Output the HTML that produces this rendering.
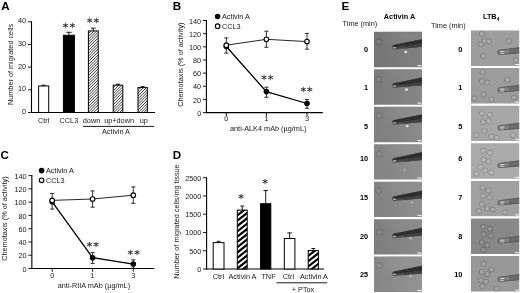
<!DOCTYPE html>
<html><head><meta charset="utf-8"><title>Figure</title>
<style>
html,body{margin:0;padding:0;background:#fff;}
body{width:520px;height:293px;overflow:hidden;position:relative;}
svg{position:absolute;left:0;top:0;display:block;}
text{font-family:"Liberation Sans",sans-serif;fill:#1a1a1a;}
.pl{font-weight:bold;font-size:11.6px;fill:#000;}
.t{font-size:7.3px;}
.tb{font-size:7.3px;font-weight:bold;fill:#000;}
.st{font-family:"DejaVu Sans Light","DejaVu Sans",sans-serif;font-weight:200;font-size:11.2px;fill:#2a2a2a;stroke:#2a2a2a;stroke-width:0.38px;letter-spacing:1.0px;}
</style></head><body>
<svg width="520" height="293" viewBox="0 0 520 293">

<text x="1.2" y="10.4" class="pl" text-anchor="start" >A</text>
<line x1="31.5" y1="21.3" x2="31.5" y2="113.0" stroke="#000" stroke-width="1.1"/>
<line x1="31.0" y1="112.5" x2="155" y2="112.5" stroke="#000" stroke-width="1.1"/>
<line x1="28.0" y1="112.5" x2="31.5" y2="112.5" stroke="#000" stroke-width="0.9"/>
<text x="26.1" y="114.0" class="t" text-anchor="end" >0</text>
<line x1="28.0" y1="89.825" x2="31.5" y2="89.825" stroke="#000" stroke-width="0.9"/>
<text x="26.1" y="91.325" class="t" text-anchor="end" >10</text>
<line x1="28.0" y1="67.15" x2="31.5" y2="67.15" stroke="#000" stroke-width="0.9"/>
<text x="26.1" y="68.65" class="t" text-anchor="end" >20</text>
<line x1="28.0" y1="44.474999999999994" x2="31.5" y2="44.474999999999994" stroke="#000" stroke-width="0.9"/>
<text x="26.1" y="45.974999999999994" class="t" text-anchor="end" >30</text>
<line x1="28.0" y1="21.799999999999997" x2="31.5" y2="21.799999999999997" stroke="#000" stroke-width="0.9"/>
<text x="26.1" y="23.299999999999997" class="t" text-anchor="end" >40</text>
<text transform="translate(13.3,64.5) rotate(-90)" class="t" text-anchor="middle">Number of migrated cells</text>
<line x1="43.650000000000006" y1="85.2" x2="43.650000000000006" y2="86.0" stroke="#000" stroke-width="0.9"/>
<line x1="41.650000000000006" y1="85.2" x2="45.650000000000006" y2="85.2" stroke="#000" stroke-width="0.9"/>
<rect x="38.6" y="86.00" width="10.10" height="26.50" fill="#fff" stroke="#000" stroke-width="1.0"/>
<line x1="68.9" y1="32.3" x2="68.9" y2="35.3" stroke="#000" stroke-width="0.9"/>
<line x1="66.30000000000001" y1="32.3" x2="71.5" y2="32.3" stroke="#000" stroke-width="0.9"/>
<rect x="63.4" y="35.30" width="11.00" height="77.20" fill="#000" stroke="#000" stroke-width="1.0"/>
<line x1="93.30000000000001" y1="28.2" x2="93.30000000000001" y2="30.9" stroke="#000" stroke-width="0.9"/>
<line x1="91.00000000000001" y1="28.2" x2="95.60000000000001" y2="28.2" stroke="#000" stroke-width="0.9"/>
<clipPath id="c1"><rect x="88.4" y="30.90" width="9.80" height="81.60"/></clipPath>
<rect x="88.4" y="30.90" width="9.80" height="81.60" fill="#fff"/>
<g clip-path="url(#c1)" stroke="#333" stroke-width="0.95">
<path d="M87.40,31.90L99.20,20.10M87.40,34.70L99.20,22.90M87.40,37.50L99.20,25.70M87.40,40.30L99.20,28.50M87.40,43.10L99.20,31.30M87.40,45.90L99.20,34.10M87.40,48.70L99.20,36.90M87.40,51.50L99.20,39.70M87.40,54.30L99.20,42.50M87.40,57.10L99.20,45.30M87.40,59.90L99.20,48.10M87.40,62.70L99.20,50.90M87.40,65.50L99.20,53.70M87.40,68.30L99.20,56.50M87.40,71.10L99.20,59.30M87.40,73.90L99.20,62.10M87.40,76.70L99.20,64.90M87.40,79.50L99.20,67.70M87.40,82.30L99.20,70.50M87.40,85.10L99.20,73.30M87.40,87.90L99.20,76.10M87.40,90.70L99.20,78.90M87.40,93.50L99.20,81.70M87.40,96.30L99.20,84.50M87.40,99.10L99.20,87.30M87.40,101.90L99.20,90.10M87.40,104.70L99.20,92.90M87.40,107.50L99.20,95.70M87.40,110.30L99.20,98.50M87.40,113.10L99.20,101.30M87.40,115.90L99.20,104.10M87.40,118.70L99.20,106.90M87.40,121.50L99.20,109.70M87.40,124.30L99.20,112.50" fill="none"/>
</g>
<rect x="88.4" y="30.90" width="9.80" height="81.60" fill="none" stroke="#000" stroke-width="1.0"/>
<line x1="118.0" y1="84.2" x2="118.0" y2="85.2" stroke="#000" stroke-width="0.9"/>
<line x1="116.0" y1="84.2" x2="120.0" y2="84.2" stroke="#000" stroke-width="0.9"/>
<clipPath id="c2"><rect x="113.2" y="85.20" width="9.60" height="27.30"/></clipPath>
<rect x="113.2" y="85.20" width="9.60" height="27.30" fill="#fff"/>
<g clip-path="url(#c2)" stroke="#333" stroke-width="0.95">
<path d="M112.20,86.20L123.80,74.60M112.20,89.00L123.80,77.40M112.20,91.80L123.80,80.20M112.20,94.60L123.80,83.00M112.20,97.40L123.80,85.80M112.20,100.20L123.80,88.60M112.20,103.00L123.80,91.40M112.20,105.80L123.80,94.20M112.20,108.60L123.80,97.00M112.20,111.40L123.80,99.80M112.20,114.20L123.80,102.60M112.20,117.00L123.80,105.40M112.20,119.80L123.80,108.20M112.20,122.60L123.80,111.00M112.20,125.40L123.80,113.80" fill="none"/>
</g>
<rect x="113.2" y="85.20" width="9.60" height="27.30" fill="none" stroke="#000" stroke-width="1.0"/>
<line x1="142.65" y1="86.6" x2="142.65" y2="87.6" stroke="#000" stroke-width="0.9"/>
<line x1="140.65" y1="86.6" x2="144.65" y2="86.6" stroke="#000" stroke-width="0.9"/>
<clipPath id="c3"><rect x="138" y="87.60" width="9.30" height="24.90"/></clipPath>
<rect x="138" y="87.60" width="9.30" height="24.90" fill="#fff"/>
<g clip-path="url(#c3)" stroke="#333" stroke-width="0.95">
<path d="M137.00,88.60L148.30,77.30M137.00,91.40L148.30,80.10M137.00,94.20L148.30,82.90M137.00,97.00L148.30,85.70M137.00,99.80L148.30,88.50M137.00,102.60L148.30,91.30M137.00,105.40L148.30,94.10M137.00,108.20L148.30,96.90M137.00,111.00L148.30,99.70M137.00,113.80L148.30,102.50M137.00,116.60L148.30,105.30M137.00,119.40L148.30,108.10M137.00,122.20L148.30,110.90M137.00,125.00L148.30,113.70" fill="none"/>
</g>
<rect x="138" y="87.60" width="9.30" height="24.90" fill="none" stroke="#000" stroke-width="1.0"/>
<text x="69.4" y="30.8" class="st" text-anchor="middle" >**</text>
<text x="93.5" y="25.900000000000002" class="st" text-anchor="middle" >**</text>
<text x="43.6" y="122.8" class="t" text-anchor="middle" >Ctrl</text>
<text x="68.9" y="122.8" class="t" text-anchor="middle" >CCL3</text>
<text x="91.5" y="122.8" class="t" text-anchor="middle" >down</text>
<text x="119.1" y="122.8" class="t" text-anchor="middle" >up+down</text>
<text x="143.7" y="122.8" class="t" text-anchor="middle" >up</text>
<line x1="83" y1="126.4" x2="154.2" y2="126.4" stroke="#000" stroke-width="0.9"/>
<text x="116" y="134.4" class="t" text-anchor="middle" >Activin A</text>
<text x="172.8" y="10.4" class="pl" text-anchor="start" >B</text>
<line x1="206.4" y1="20.0" x2="206.4" y2="113.1" stroke="#000" stroke-width="1.1"/>
<line x1="205.9" y1="112.6" x2="322.8" y2="112.6" stroke="#000" stroke-width="1.1"/>
<line x1="203.0" y1="112.6" x2="206.4" y2="112.6" stroke="#000" stroke-width="0.9"/>
<text x="201.20000000000002" y="115.7" class="t" text-anchor="end" >0</text>
<line x1="203.0" y1="99.44285714285714" x2="206.4" y2="99.44285714285714" stroke="#000" stroke-width="0.9"/>
<text x="201.20000000000002" y="102.54285714285714" class="t" text-anchor="end" >20</text>
<line x1="203.0" y1="86.28571428571428" x2="206.4" y2="86.28571428571428" stroke="#000" stroke-width="0.9"/>
<text x="201.20000000000002" y="89.38571428571429" class="t" text-anchor="end" >40</text>
<line x1="203.0" y1="73.12857142857143" x2="206.4" y2="73.12857142857143" stroke="#000" stroke-width="0.9"/>
<text x="201.20000000000002" y="76.22857142857144" class="t" text-anchor="end" >60</text>
<line x1="203.0" y1="59.97142857142857" x2="206.4" y2="59.97142857142857" stroke="#000" stroke-width="0.9"/>
<text x="201.20000000000002" y="63.07142857142857" class="t" text-anchor="end" >80</text>
<line x1="203.0" y1="46.8142857142857" x2="206.4" y2="46.8142857142857" stroke="#000" stroke-width="0.9"/>
<text x="201.20000000000002" y="49.914285714285704" class="t" text-anchor="end" >100</text>
<line x1="203.0" y1="33.65714285714286" x2="206.4" y2="33.65714285714286" stroke="#000" stroke-width="0.9"/>
<text x="201.20000000000002" y="36.75714285714286" class="t" text-anchor="end" >120</text>
<line x1="203.0" y1="20.5" x2="206.4" y2="20.5" stroke="#000" stroke-width="0.9"/>
<text x="201.20000000000002" y="23.599999999999998" class="t" text-anchor="end" >140</text>
<line x1="226.3" y1="112.6" x2="226.3" y2="115.89999999999999" stroke="#000" stroke-width="0.9"/>
<text x="226.3" y="120.69999999999999" class="t" text-anchor="middle" >0</text>
<line x1="266.4" y1="112.6" x2="266.4" y2="115.89999999999999" stroke="#000" stroke-width="0.9"/>
<text x="266.4" y="120.69999999999999" class="t" text-anchor="middle" >1</text>
<line x1="307.0" y1="112.6" x2="307.0" y2="115.89999999999999" stroke="#000" stroke-width="0.9"/>
<text x="307.0" y="120.69999999999999" class="t" text-anchor="middle" >3</text>
<text x="268.2" y="130.9" class="t" text-anchor="middle" >anti-ALK4 mAb (µg/mL)</text>
<text transform="translate(183.4,64.7) rotate(-90)" class="t" text-anchor="middle">Chemotaxis (% of activity)</text>
<circle cx="217.6" cy="16.5" r="2.8" fill="#000"/>
<text x="221.9" y="19.1" class="t" text-anchor="start" >Activin A</text>
<circle cx="217.6" cy="26.2" r="2.3" fill="#fff" stroke="#000" stroke-width="1.1"/>
<text x="221.9" y="28.8" class="t" text-anchor="start" >CCL3</text>
<line x1="266.4" y1="87.2" x2="266.4" y2="97.3" stroke="#000" stroke-width="0.8"/>
<line x1="264.29999999999995" y1="87.2" x2="268.5" y2="87.2" stroke="#000" stroke-width="0.8"/>
<line x1="264.29999999999995" y1="97.3" x2="268.5" y2="97.3" stroke="#000" stroke-width="0.8"/>
<line x1="307.0" y1="99.4" x2="307.0" y2="108.3" stroke="#000" stroke-width="0.8"/>
<line x1="304.9" y1="99.4" x2="309.1" y2="99.4" stroke="#000" stroke-width="0.8"/>
<line x1="304.9" y1="108.3" x2="309.1" y2="108.3" stroke="#000" stroke-width="0.8"/>
<polyline points="226.3,46.5 266.4,91.6 307.0,103.5" fill="none" stroke="#000" stroke-width="1.3"/>
<circle cx="226.3" cy="46.5" r="2.8" fill="#000"/>
<circle cx="266.4" cy="91.6" r="2.8" fill="#000"/>
<circle cx="307.0" cy="103.5" r="2.8" fill="#000"/>
<line x1="226.3" y1="37.9" x2="226.3" y2="53.2" stroke="#000" stroke-width="0.8"/>
<line x1="224.20000000000002" y1="37.9" x2="228.4" y2="37.9" stroke="#000" stroke-width="0.8"/>
<line x1="224.20000000000002" y1="53.2" x2="228.4" y2="53.2" stroke="#000" stroke-width="0.8"/>
<line x1="266.4" y1="31.2" x2="266.4" y2="47.3" stroke="#000" stroke-width="0.8"/>
<line x1="264.29999999999995" y1="31.2" x2="268.5" y2="31.2" stroke="#000" stroke-width="0.8"/>
<line x1="264.29999999999995" y1="47.3" x2="268.5" y2="47.3" stroke="#000" stroke-width="0.8"/>
<line x1="307.0" y1="33.4" x2="307.0" y2="49.2" stroke="#000" stroke-width="0.8"/>
<line x1="304.9" y1="33.4" x2="309.1" y2="33.4" stroke="#000" stroke-width="0.8"/>
<line x1="304.9" y1="49.2" x2="309.1" y2="49.2" stroke="#000" stroke-width="0.8"/>
<polyline points="226.3,45.2 266.4,39.3 307.0,41.6" fill="none" stroke="#000" stroke-width="0.85"/>
<circle cx="226.3" cy="45.2" r="2.3" fill="#fff" stroke="#000" stroke-width="1.1"/>
<circle cx="266.4" cy="39.3" r="2.3" fill="#fff" stroke="#000" stroke-width="1.1"/>
<circle cx="307.0" cy="41.6" r="2.3" fill="#fff" stroke="#000" stroke-width="1.1"/>
<text x="267.8" y="82.6" class="st" text-anchor="middle" >**</text>
<text x="307.0" y="95.39999999999999" class="st" text-anchor="middle" >**</text>
<text x="0.6" y="158.9" class="pl" text-anchor="start" >C</text>
<line x1="31.85" y1="175.1" x2="31.85" y2="269.0" stroke="#000" stroke-width="1.1"/>
<line x1="31.35" y1="268.5" x2="154.3" y2="268.5" stroke="#000" stroke-width="1.1"/>
<line x1="28.450000000000003" y1="268.5" x2="31.85" y2="268.5" stroke="#000" stroke-width="0.9"/>
<text x="26.650000000000002" y="271.59999999999997" class="t" text-anchor="end" >0</text>
<line x1="28.450000000000003" y1="255.22857142857143" x2="31.85" y2="255.22857142857143" stroke="#000" stroke-width="0.9"/>
<text x="26.650000000000002" y="258.3285714285714" class="t" text-anchor="end" >20</text>
<line x1="28.450000000000003" y1="241.95714285714286" x2="31.85" y2="241.95714285714286" stroke="#000" stroke-width="0.9"/>
<text x="26.650000000000002" y="245.05714285714285" class="t" text-anchor="end" >40</text>
<line x1="28.450000000000003" y1="228.68571428571428" x2="31.85" y2="228.68571428571428" stroke="#000" stroke-width="0.9"/>
<text x="26.650000000000002" y="231.78571428571428" class="t" text-anchor="end" >60</text>
<line x1="28.450000000000003" y1="215.4142857142857" x2="31.85" y2="215.4142857142857" stroke="#000" stroke-width="0.9"/>
<text x="26.650000000000002" y="218.5142857142857" class="t" text-anchor="end" >80</text>
<line x1="28.450000000000003" y1="202.14285714285714" x2="31.85" y2="202.14285714285714" stroke="#000" stroke-width="0.9"/>
<text x="26.650000000000002" y="205.24285714285713" class="t" text-anchor="end" >100</text>
<line x1="28.450000000000003" y1="188.87142857142857" x2="31.85" y2="188.87142857142857" stroke="#000" stroke-width="0.9"/>
<text x="26.650000000000002" y="191.97142857142856" class="t" text-anchor="end" >120</text>
<line x1="28.450000000000003" y1="175.6" x2="31.85" y2="175.6" stroke="#000" stroke-width="0.9"/>
<text x="26.650000000000002" y="178.7" class="t" text-anchor="end" >140</text>
<line x1="52.2" y1="268.5" x2="52.2" y2="271.8" stroke="#000" stroke-width="0.9"/>
<text x="52.2" y="278.1" class="t" text-anchor="middle" >0</text>
<line x1="92.6" y1="268.5" x2="92.6" y2="271.8" stroke="#000" stroke-width="0.9"/>
<text x="92.6" y="278.1" class="t" text-anchor="middle" >1</text>
<line x1="133.3" y1="268.5" x2="133.3" y2="271.8" stroke="#000" stroke-width="0.9"/>
<text x="133.3" y="278.1" class="t" text-anchor="middle" >3</text>
<text x="93.9" y="287.7" class="t" text-anchor="middle" >anti-RIIA mAb (µg/mL)</text>
<text transform="translate(6.8,218.6) rotate(-90)" class="t" text-anchor="middle">Chemotaxis (% of activity)</text>
<circle cx="41.6" cy="170.6" r="2.8" fill="#000"/>
<text x="45.9" y="173.2" class="t" text-anchor="start" >Activin A</text>
<circle cx="41.6" cy="180.29999999999998" r="2.3" fill="#fff" stroke="#000" stroke-width="1.1"/>
<text x="45.9" y="182.9" class="t" text-anchor="start" >CCL3</text>
<line x1="92.6" y1="252.6" x2="92.6" y2="263.4" stroke="#000" stroke-width="0.8"/>
<line x1="90.5" y1="252.6" x2="94.69999999999999" y2="252.6" stroke="#000" stroke-width="0.8"/>
<line x1="90.5" y1="263.4" x2="94.69999999999999" y2="263.4" stroke="#000" stroke-width="0.8"/>
<line x1="133.3" y1="259.8" x2="133.3" y2="268.3" stroke="#000" stroke-width="0.8"/>
<line x1="131.20000000000002" y1="259.8" x2="135.4" y2="259.8" stroke="#000" stroke-width="0.8"/>
<line x1="131.20000000000002" y1="268.3" x2="135.4" y2="268.3" stroke="#000" stroke-width="0.8"/>
<polyline points="52.2,201.8 92.6,257.7 133.3,264.1" fill="none" stroke="#000" stroke-width="1.3"/>
<circle cx="52.2" cy="201.8" r="2.8" fill="#000"/>
<circle cx="92.6" cy="257.7" r="2.8" fill="#000"/>
<circle cx="133.3" cy="264.1" r="2.8" fill="#000"/>
<line x1="52.2" y1="193.4" x2="52.2" y2="209.1" stroke="#000" stroke-width="0.8"/>
<line x1="50.1" y1="193.4" x2="54.300000000000004" y2="193.4" stroke="#000" stroke-width="0.8"/>
<line x1="50.1" y1="209.1" x2="54.300000000000004" y2="209.1" stroke="#000" stroke-width="0.8"/>
<line x1="92.6" y1="190.9" x2="92.6" y2="207.2" stroke="#000" stroke-width="0.8"/>
<line x1="90.5" y1="190.9" x2="94.69999999999999" y2="190.9" stroke="#000" stroke-width="0.8"/>
<line x1="90.5" y1="207.2" x2="94.69999999999999" y2="207.2" stroke="#000" stroke-width="0.8"/>
<line x1="133.3" y1="186.9" x2="133.3" y2="203.3" stroke="#000" stroke-width="0.8"/>
<line x1="131.20000000000002" y1="186.9" x2="135.4" y2="186.9" stroke="#000" stroke-width="0.8"/>
<line x1="131.20000000000002" y1="203.3" x2="135.4" y2="203.3" stroke="#000" stroke-width="0.8"/>
<polyline points="52.2,200.4 92.6,199.0 133.3,195.2" fill="none" stroke="#000" stroke-width="0.85"/>
<circle cx="52.2" cy="200.4" r="2.3" fill="#fff" stroke="#000" stroke-width="1.1"/>
<circle cx="92.6" cy="199.0" r="2.3" fill="#fff" stroke="#000" stroke-width="1.1"/>
<circle cx="133.3" cy="195.2" r="2.3" fill="#fff" stroke="#000" stroke-width="1.1"/>
<text x="93.3" y="250.0" class="st" text-anchor="middle" >**</text>
<text x="134.2" y="257.7" class="st" text-anchor="middle" >**</text>
<text x="172.8" y="158.9" class="pl" text-anchor="start" >D</text>
<line x1="206.6" y1="177.2" x2="206.6" y2="269.5" stroke="#000" stroke-width="1.1"/>
<line x1="206.1" y1="269.0" x2="324" y2="269.0" stroke="#000" stroke-width="1.1"/>
<line x1="203.0" y1="269.0" x2="206.6" y2="269.0" stroke="#000" stroke-width="0.9"/>
<text x="201.4" y="271.8" class="t" text-anchor="end" >0</text>
<line x1="203.0" y1="250.74" x2="206.6" y2="250.74" stroke="#000" stroke-width="0.9"/>
<text x="201.4" y="253.54" class="t" text-anchor="end" >500</text>
<line x1="203.0" y1="232.48" x2="206.6" y2="232.48" stroke="#000" stroke-width="0.9"/>
<text x="201.4" y="235.27999999999997" class="t" text-anchor="end" >1000</text>
<line x1="203.0" y1="214.22" x2="206.6" y2="214.22" stroke="#000" stroke-width="0.9"/>
<text x="201.4" y="217.01999999999998" class="t" text-anchor="end" >1500</text>
<line x1="203.0" y1="195.95999999999998" x2="206.6" y2="195.95999999999998" stroke="#000" stroke-width="0.9"/>
<text x="201.4" y="198.75999999999996" class="t" text-anchor="end" >2000</text>
<line x1="203.0" y1="177.7" x2="206.6" y2="177.7" stroke="#000" stroke-width="0.9"/>
<text x="201.4" y="180.49999999999997" class="t" text-anchor="end" >2500</text>
<text transform="translate(178.6,221.5) rotate(-90)" class="t" text-anchor="middle">Number of migrated cells/mg tissue</text>
<line x1="218.6" y1="241.3" x2="218.6" y2="242.6" stroke="#000" stroke-width="0.9"/>
<line x1="216.7" y1="241.3" x2="220.5" y2="241.3" stroke="#000" stroke-width="0.9"/>
<rect x="213.2" y="242.60" width="10.80" height="26.40" fill="#fff" stroke="#000" stroke-width="1.0"/>
<line x1="242.25" y1="206.0" x2="242.25" y2="210.1" stroke="#000" stroke-width="0.9"/>
<line x1="240.35" y1="206.0" x2="244.15" y2="206.0" stroke="#000" stroke-width="0.9"/>
<clipPath id="c4"><rect x="237.3" y="210.10" width="9.90" height="58.90"/></clipPath>
<rect x="237.3" y="210.10" width="9.90" height="58.90" fill="#fff"/>
<g clip-path="url(#c4)" stroke="#000" stroke-width="2.2">
<path d="M236.30,210.88L248.20,201.58M236.30,216.18L248.20,206.88M236.30,221.48L248.20,212.18M236.30,226.78L248.20,217.48M236.30,232.08L248.20,222.78M236.30,237.38L248.20,228.08M236.30,242.68L248.20,233.38M236.30,247.98L248.20,238.68M236.30,253.28L248.20,243.98M236.30,258.58L248.20,249.28M236.30,263.88L248.20,254.58M236.30,269.18L248.20,259.88M236.30,274.48L248.20,265.18M236.30,279.78L248.20,270.48" fill="none"/>
</g>
<rect x="237.3" y="210.10" width="9.90" height="58.90" fill="none" stroke="#000" stroke-width="1.0"/>
<line x1="265.70000000000005" y1="190.5" x2="265.70000000000005" y2="203.7" stroke="#000" stroke-width="0.9"/>
<line x1="263.50000000000006" y1="190.5" x2="267.90000000000003" y2="190.5" stroke="#000" stroke-width="0.9"/>
<rect x="260.6" y="203.70" width="10.20" height="65.30" fill="#000" stroke="#000" stroke-width="1.0"/>
<line x1="289.6" y1="232.9" x2="289.6" y2="238.5" stroke="#000" stroke-width="0.9"/>
<line x1="287.3" y1="232.9" x2="291.90000000000003" y2="232.9" stroke="#000" stroke-width="0.9"/>
<rect x="284.3" y="238.50" width="10.60" height="30.50" fill="#fff" stroke="#000" stroke-width="1.0"/>
<line x1="313.29999999999995" y1="248.5" x2="313.29999999999995" y2="250.6" stroke="#000" stroke-width="0.9"/>
<line x1="311.4" y1="248.5" x2="315.19999999999993" y2="248.5" stroke="#000" stroke-width="0.9"/>
<clipPath id="c5"><rect x="308.2" y="250.60" width="10.20" height="18.40"/></clipPath>
<rect x="308.2" y="250.60" width="10.20" height="18.40" fill="#fff"/>
<g clip-path="url(#c5)" stroke="#000" stroke-width="2.2">
<path d="M307.20,251.38L319.40,241.85M307.20,256.68L319.40,247.15M307.20,261.98L319.40,252.45M307.20,267.28L319.40,257.75M307.20,272.58L319.40,263.05M307.20,277.88L319.40,268.35" fill="none"/>
</g>
<rect x="308.2" y="250.60" width="10.20" height="18.40" fill="none" stroke="#000" stroke-width="1.0"/>
<text x="241.6" y="202.10000000000002" class="st" text-anchor="middle" >*</text>
<text x="265.6" y="187.10000000000002" class="st" text-anchor="middle" >*</text>
<text x="218.5" y="278.6" class="t" text-anchor="middle" >Ctrl</text>
<text x="242.5" y="278.6" class="t" text-anchor="middle" >Activin A</text>
<text x="268.5" y="278.6" class="t" text-anchor="middle" >TNF</text>
<text x="288.5" y="278.6" class="t" text-anchor="middle" >Ctrl</text>
<text x="314" y="278.6" class="t" text-anchor="middle" >Activin A</text>
<line x1="276.5" y1="282.8" x2="327.2" y2="282.8" stroke="#000" stroke-width="0.9"/>
<text x="303" y="292.3" class="t" text-anchor="middle" >+ PTox</text>
<text x="341.6" y="10.4" class="pl" text-anchor="start" >E</text>
<text x="399.5" y="18.6" class="tb" text-anchor="middle" >Activin A</text>
<text x="342.6" y="25.9" class="t" text-anchor="start" >Time (min)</text>
<text x="483" y="19.4" class="tb">LTB<tspan font-size="4.8" dy="1.5">4</tspan></text>
<text x="431" y="28.1" class="t" text-anchor="start" >Time (min)</text>
<defs><filter id="bl" x="-10%" y="-10%" width="120%" height="120%"><feGaussianBlur stdDeviation="0.45"/></filter>
<filter id="bl2" x="-50%" y="-50%" width="200%" height="200%"><feGaussianBlur stdDeviation="5"/></filter>
<clipPath id="cpL"><rect x="0" y="0" width="48" height="35.4"/></clipPath>
<clipPath id="cpR"><rect x="0" y="0" width="48.2" height="35.4"/></clipPath></defs>
<g transform="translate(374,31.80)" clip-path="url(#cpL)">
<linearGradient id="lg0" x1="0" x2="1" y1="0" y2="0"><stop offset="0" stop-color="#757575"/><stop offset="0.45" stop-color="#797979"/><stop offset="1" stop-color="#828282"/></linearGradient>
<rect x="-1" y="-1" width="50" height="38" fill="url(#lg0)"/>
<g filter="url(#bl)">
<ellipse cx="34" cy="5" rx="22" ry="12" fill="#858585" opacity="0.5" filter="url(#bl2)"/>
<circle cx="4.6" cy="9.8" r="2.9" fill="#7d7d7d" stroke="#5b5b5b" stroke-width="0.7"/>
<g transform="translate(0,0)">
<polygon points="18.2,14.4 19.2,13.3 49,7.1 49,15.0 20.2,17.7 18.5,16.9" fill="#4c4c4c"/>
<polygon points="18.6,14.2 19.4,13.3 49,7.1 49,12 20,15.6" fill="#2e2e2e"/>
<polygon points="30,14.9 49,12.6 49,15.0 30,16.7" fill="#404040"/>
<ellipse cx="20.6" cy="15.9" rx="1.5" ry="0.8" fill="#c0c0c0"/>
</g>
<circle cx="31.8" cy="20.2" r="1.35" fill="#e8e8e8" opacity="1"/>
</g>
<rect x="43.4" y="33.3" width="4.2" height="1.1" fill="#f2f2f2"/>
</g>
<g transform="translate(471,30.50)" clip-path="url(#cpR)">
<rect x="-1" y="-1" width="51" height="38" fill="#9d9d9d"/>
<g filter="url(#bl)">
<circle cx="10.8" cy="3.4" r="2.6" fill="#a9a9a9" stroke="#797979" stroke-width="0.8"/>
<circle cx="13.5" cy="10.5" r="2.6" fill="#a9a9a9" stroke="#797979" stroke-width="0.8"/>
<circle cx="10" cy="13.8" r="2.6" fill="#a9a9a9" stroke="#797979" stroke-width="0.8"/>
<circle cx="18" cy="11" r="2.6" fill="#a9a9a9" stroke="#797979" stroke-width="0.8"/>
<circle cx="12" cy="25.5" r="2.6" fill="#a9a9a9" stroke="#797979" stroke-width="0.8"/>
<circle cx="38" cy="10.5" r="2.6" fill="#a9a9a9" stroke="#797979" stroke-width="0.8"/>
<circle cx="45" cy="29.6" r="2.6" fill="#a9a9a9" stroke="#797979" stroke-width="0.8"/>
<g transform="translate(0,0)">
<polygon points="26.8,20.4 28.4,19.6 50,16.8 50,22.4 28.6,24.2 26.9,23.5" fill="#808080"/>
<polygon points="38,18.4 50,16.8 50,22.4 38,23.4" fill="#6c6c6c"/>
<polyline points="50,17 28.4,19.7 27.1,20.5 27.2,23.4 28.6,24 50,22.2" fill="none" stroke="#505050" stroke-width="0.8"/>
<rect x="29.2" y="20.6" width="4.2" height="0.9" fill="#e0e0e0"/><rect x="29.2" y="22.6" width="3.6" height="0.8" fill="#d6d6d6"/>
</g>
</g>
<rect x="44.2" y="33.5" width="3.8" height="1.0" fill="#f2f2f2"/>
</g>
<text x="368.0" y="52.05" class="tb" text-anchor="end" >0</text>
<text x="462.4" y="52.05" class="tb" text-anchor="end" >0</text>
<g transform="translate(374,69.27)" clip-path="url(#cpL)">
<linearGradient id="lg1" x1="0" x2="1" y1="0" y2="0"><stop offset="0" stop-color="#7a7a7a"/><stop offset="0.45" stop-color="#7e7e7e"/><stop offset="1" stop-color="#878787"/></linearGradient>
<rect x="-1" y="-1" width="50" height="38" fill="url(#lg1)"/>
<g filter="url(#bl)">
<ellipse cx="34" cy="5" rx="22" ry="12" fill="#8a8a8a" opacity="0.5" filter="url(#bl2)"/>
<circle cx="4.6" cy="10" r="2.9" fill="#828282" stroke="#606060" stroke-width="0.7"/>
<g transform="translate(0,0.9)">
<polygon points="18.2,14.4 19.2,13.3 49,7.1 49,15.0 20.2,17.7 18.5,16.9" fill="#4c4c4c"/>
<polygon points="18.6,14.2 19.4,13.3 49,7.1 49,12 20,15.6" fill="#2e2e2e"/>
<polygon points="30,14.9 49,12.6 49,15.0 30,16.7" fill="#404040"/>
<ellipse cx="20.6" cy="15.9" rx="1.5" ry="0.8" fill="#c0c0c0"/>
</g>
<circle cx="32.5" cy="20.4" r="1.35" fill="#e8e8e8" opacity="1"/>
</g>
<rect x="43.4" y="33.3" width="4.2" height="1.1" fill="#f2f2f2"/>
</g>
<g transform="translate(471,68.10)" clip-path="url(#cpR)">
<rect x="-1" y="-1" width="51" height="38" fill="#9c9c9c"/>
<g filter="url(#bl)">
<circle cx="11.6" cy="4.2" r="2.6" fill="#a8a8a8" stroke="#787878" stroke-width="0.8"/>
<circle cx="10.8" cy="13.2" r="2.6" fill="#a8a8a8" stroke="#787878" stroke-width="0.8"/>
<circle cx="16.2" cy="14.5" r="2.6" fill="#a8a8a8" stroke="#787878" stroke-width="0.8"/>
<circle cx="12.7" cy="26.3" r="2.6" fill="#a8a8a8" stroke="#787878" stroke-width="0.8"/>
<circle cx="3.4" cy="30.4" r="2.6" fill="#a8a8a8" stroke="#787878" stroke-width="0.8"/>
<circle cx="20.3" cy="31.5" r="2.6" fill="#a8a8a8" stroke="#787878" stroke-width="0.8"/>
<circle cx="36.7" cy="11.8" r="2.6" fill="#a8a8a8" stroke="#787878" stroke-width="0.8"/>
<circle cx="43" cy="29.6" r="2.6" fill="#a8a8a8" stroke="#787878" stroke-width="0.8"/>
<g transform="translate(0,0)">
<polygon points="26.8,20.4 28.4,19.6 50,16.8 50,22.4 28.6,24.2 26.9,23.5" fill="#808080"/>
<polygon points="38,18.4 50,16.8 50,22.4 38,23.4" fill="#6c6c6c"/>
<polyline points="50,17 28.4,19.7 27.1,20.5 27.2,23.4 28.6,24 50,22.2" fill="none" stroke="#505050" stroke-width="0.8"/>
<rect x="29.2" y="20.6" width="4.2" height="0.9" fill="#e0e0e0"/><rect x="29.2" y="22.6" width="3.6" height="0.8" fill="#d6d6d6"/>
</g>
</g>
<rect x="44.2" y="33.5" width="3.8" height="1.0" fill="#f2f2f2"/>
</g>
<text x="368.0" y="89.75" class="tb" text-anchor="end" >1</text>
<text x="462.4" y="89.75" class="tb" text-anchor="end" >1</text>
<g transform="translate(374,106.74)" clip-path="url(#cpL)">
<linearGradient id="lg2" x1="0" x2="1" y1="0" y2="0"><stop offset="0" stop-color="#7f7f7f"/><stop offset="0.45" stop-color="#838383"/><stop offset="1" stop-color="#8c8c8c"/></linearGradient>
<rect x="-1" y="-1" width="50" height="38" fill="url(#lg2)"/>
<g filter="url(#bl)">
<ellipse cx="34" cy="5" rx="22" ry="12" fill="#8f8f8f" opacity="0.5" filter="url(#bl2)"/>
<circle cx="5" cy="9" r="2.9" fill="#878787" stroke="#656565" stroke-width="0.7"/>
<g transform="translate(0,0.3)">
<polygon points="18.2,14.4 19.2,13.3 49,7.1 49,15.0 20.2,17.7 18.5,16.9" fill="#4c4c4c"/>
<polygon points="18.6,14.2 19.4,13.3 49,7.1 49,12 20,15.6" fill="#2e2e2e"/>
<polygon points="30,14.9 49,12.6 49,15.0 30,16.7" fill="#404040"/>
<ellipse cx="20.6" cy="15.9" rx="1.5" ry="0.8" fill="#c0c0c0"/>
</g>
<circle cx="33.2" cy="19.3" r="1.35" fill="#e8e8e8" opacity="0.9"/>
</g>
<rect x="43.4" y="33.3" width="4.2" height="1.1" fill="#f2f2f2"/>
</g>
<g transform="translate(471,105.70)" clip-path="url(#cpR)">
<rect x="-1" y="-1" width="51" height="38" fill="#a7a7a7"/>
<g filter="url(#bl)">
<circle cx="10.8" cy="7.6" r="2.6" fill="#b3b3b3" stroke="#838383" stroke-width="0.8"/>
<circle cx="19" cy="9" r="2.6" fill="#b3b3b3" stroke="#838383" stroke-width="0.8"/>
<circle cx="12" cy="16.4" r="2.6" fill="#b3b3b3" stroke="#838383" stroke-width="0.8"/>
<circle cx="17.6" cy="15.3" r="2.6" fill="#b3b3b3" stroke="#838383" stroke-width="0.8"/>
<circle cx="13.5" cy="25.4" r="2.6" fill="#b3b3b3" stroke="#838383" stroke-width="0.8"/>
<circle cx="5.3" cy="29.5" r="2.6" fill="#b3b3b3" stroke="#838383" stroke-width="0.8"/>
<circle cx="20.3" cy="30.9" r="2.6" fill="#b3b3b3" stroke="#838383" stroke-width="0.8"/>
<circle cx="25.8" cy="32.2" r="2.6" fill="#b3b3b3" stroke="#838383" stroke-width="0.8"/>
<circle cx="42" cy="29.5" r="2.6" fill="#b3b3b3" stroke="#838383" stroke-width="0.8"/>
<g transform="translate(0,0.3)">
<polygon points="26.8,20.4 28.4,19.6 50,16.8 50,22.4 28.6,24.2 26.9,23.5" fill="#808080"/>
<polygon points="38,18.4 50,16.8 50,22.4 38,23.4" fill="#6c6c6c"/>
<polyline points="50,17 28.4,19.7 27.1,20.5 27.2,23.4 28.6,24 50,22.2" fill="none" stroke="#505050" stroke-width="0.8"/>
<rect x="29.2" y="20.6" width="4.2" height="0.9" fill="#e0e0e0"/><rect x="29.2" y="22.6" width="3.6" height="0.8" fill="#d6d6d6"/>
</g>
</g>
<rect x="44.2" y="33.5" width="3.8" height="1.0" fill="#f2f2f2"/>
</g>
<text x="368.0" y="128.75" class="tb" text-anchor="end" >5</text>
<text x="462.4" y="128.75" class="tb" text-anchor="end" >5</text>
<g transform="translate(374,144.21)" clip-path="url(#cpL)">
<linearGradient id="lg3" x1="0" x2="1" y1="0" y2="0"><stop offset="0" stop-color="#838383"/><stop offset="0.45" stop-color="#878787"/><stop offset="1" stop-color="#909090"/></linearGradient>
<rect x="-1" y="-1" width="50" height="38" fill="url(#lg3)"/>
<g filter="url(#bl)">
<ellipse cx="34" cy="5" rx="22" ry="12" fill="#939393" opacity="0.5" filter="url(#bl2)"/>
<circle cx="5" cy="10" r="2.9" fill="#8b8b8b" stroke="#696969" stroke-width="0.7"/>
<g transform="translate(0,0.8)">
<polygon points="18.2,14.4 19.2,13.3 49,7.1 49,15.0 20.2,17.7 18.5,16.9" fill="#4c4c4c"/>
<polygon points="18.6,14.2 19.4,13.3 49,7.1 49,12 20,15.6" fill="#2e2e2e"/>
<polygon points="30,14.9 49,12.6 49,15.0 30,16.7" fill="#404040"/>
<ellipse cx="20.6" cy="15.9" rx="1.5" ry="0.8" fill="#c0c0c0"/>
</g>
<circle cx="30.4" cy="25.7" r="1.35" fill="#e8e8e8" opacity="0.25"/>
</g>
<rect x="43.4" y="33.3" width="4.2" height="1.1" fill="#f2f2f2"/>
</g>
<g transform="translate(471,143.30)" clip-path="url(#cpR)">
<rect x="-1" y="-1" width="51" height="38" fill="#aaaaaa"/>
<g filter="url(#bl)">
<circle cx="12.1" cy="7.5" r="2.6" fill="#b6b6b6" stroke="#868686" stroke-width="0.8"/>
<circle cx="19" cy="9.4" r="2.6" fill="#b6b6b6" stroke="#868686" stroke-width="0.8"/>
<circle cx="12.7" cy="16.2" r="2.6" fill="#b6b6b6" stroke="#868686" stroke-width="0.8"/>
<circle cx="17.6" cy="18.4" r="2.6" fill="#b6b6b6" stroke="#868686" stroke-width="0.8"/>
<circle cx="9.4" cy="23.9" r="2.6" fill="#b6b6b6" stroke="#868686" stroke-width="0.8"/>
<circle cx="14.3" cy="27.1" r="2.6" fill="#b6b6b6" stroke="#868686" stroke-width="0.8"/>
<circle cx="20.3" cy="29.3" r="2.6" fill="#b6b6b6" stroke="#868686" stroke-width="0.8"/>
<circle cx="5.3" cy="30.4" r="2.6" fill="#b6b6b6" stroke="#868686" stroke-width="0.8"/>
<g transform="translate(0,0.3)">
<polygon points="26.8,20.4 28.4,19.6 50,16.8 50,22.4 28.6,24.2 26.9,23.5" fill="#808080"/>
<polygon points="38,18.4 50,16.8 50,22.4 38,23.4" fill="#6c6c6c"/>
<polyline points="50,17 28.4,19.7 27.1,20.5 27.2,23.4 28.6,24 50,22.2" fill="none" stroke="#505050" stroke-width="0.8"/>
<rect x="29.2" y="20.6" width="4.2" height="0.9" fill="#e0e0e0"/><rect x="29.2" y="22.6" width="3.6" height="0.8" fill="#d6d6d6"/>
</g>
</g>
<rect x="44.2" y="33.5" width="3.8" height="1.0" fill="#f2f2f2"/>
</g>
<text x="368.0" y="160.65" class="tb" text-anchor="end" >10</text>
<text x="462.4" y="160.65" class="tb" text-anchor="end" >6</text>
<g transform="translate(374,181.68)" clip-path="url(#cpL)">
<linearGradient id="lg4" x1="0" x2="1" y1="0" y2="0"><stop offset="0" stop-color="#828282"/><stop offset="0.45" stop-color="#868686"/><stop offset="1" stop-color="#8f8f8f"/></linearGradient>
<rect x="-1" y="-1" width="50" height="38" fill="url(#lg4)"/>
<g filter="url(#bl)">
<ellipse cx="34" cy="5" rx="22" ry="12" fill="#929292" opacity="0.5" filter="url(#bl2)"/>
<circle cx="4.5" cy="9" r="2.9" fill="#8a8a8a" stroke="#686868" stroke-width="0.7"/>
<g transform="translate(0,1.6)">
<polygon points="18.2,14.4 19.2,13.3 49,7.1 49,15.0 20.2,17.7 18.5,16.9" fill="#4c4c4c"/>
<polygon points="18.6,14.2 19.4,13.3 49,7.1 49,12 20,15.6" fill="#2e2e2e"/>
<polygon points="30,14.9 49,12.6 49,15.0 30,16.7" fill="#404040"/>
<ellipse cx="20.6" cy="15.9" rx="1.5" ry="0.8" fill="#c0c0c0"/>
</g>
<circle cx="38" cy="21" r="1.35" fill="#e8e8e8" opacity="0.4"/>
</g>
<rect x="43.4" y="33.3" width="4.2" height="1.1" fill="#f2f2f2"/>
</g>
<g transform="translate(471,180.90)" clip-path="url(#cpR)">
<rect x="-1" y="-1" width="51" height="38" fill="#a0a0a0"/>
<g filter="url(#bl)">
<circle cx="11.6" cy="6.9" r="2.6" fill="#acacac" stroke="#7c7c7c" stroke-width="0.8"/>
<circle cx="17.6" cy="9.6" r="2.6" fill="#acacac" stroke="#7c7c7c" stroke-width="0.8"/>
<circle cx="12.1" cy="15.1" r="2.6" fill="#acacac" stroke="#7c7c7c" stroke-width="0.8"/>
<circle cx="19" cy="16.4" r="2.6" fill="#acacac" stroke="#7c7c7c" stroke-width="0.8"/>
<circle cx="10.8" cy="23.3" r="2.6" fill="#acacac" stroke="#7c7c7c" stroke-width="0.8"/>
<circle cx="16.2" cy="27.4" r="2.6" fill="#acacac" stroke="#7c7c7c" stroke-width="0.8"/>
<circle cx="21.7" cy="28.7" r="2.6" fill="#acacac" stroke="#7c7c7c" stroke-width="0.8"/>
<circle cx="8" cy="30.1" r="2.6" fill="#acacac" stroke="#7c7c7c" stroke-width="0.8"/>
<circle cx="34" cy="31.5" r="2.6" fill="#acacac" stroke="#7c7c7c" stroke-width="0.8"/>
<g transform="translate(0,0)">
<polygon points="26.8,20.4 28.4,19.6 50,16.8 50,22.4 28.6,24.2 26.9,23.5" fill="#808080"/>
<polygon points="38,18.4 50,16.8 50,22.4 38,23.4" fill="#6c6c6c"/>
<polyline points="50,17 28.4,19.7 27.1,20.5 27.2,23.4 28.6,24 50,22.2" fill="none" stroke="#505050" stroke-width="0.8"/>
<rect x="29.2" y="20.6" width="4.2" height="0.9" fill="#e0e0e0"/><rect x="29.2" y="22.6" width="3.6" height="0.8" fill="#d6d6d6"/>
</g>
</g>
<rect x="44.2" y="33.5" width="3.8" height="1.0" fill="#f2f2f2"/>
</g>
<text x="368.0" y="200.05" class="tb" text-anchor="end" >15</text>
<text x="462.4" y="200.05" class="tb" text-anchor="end" >7</text>
<g transform="translate(374,219.15)" clip-path="url(#cpL)">
<linearGradient id="lg5" x1="0" x2="1" y1="0" y2="0"><stop offset="0" stop-color="#7e7e7e"/><stop offset="0.45" stop-color="#828282"/><stop offset="1" stop-color="#8b8b8b"/></linearGradient>
<rect x="-1" y="-1" width="50" height="38" fill="url(#lg5)"/>
<g filter="url(#bl)">
<ellipse cx="34" cy="5" rx="22" ry="12" fill="#8e8e8e" opacity="0.5" filter="url(#bl2)"/>
<circle cx="5.3" cy="13" r="2.9" fill="#868686" stroke="#646464" stroke-width="0.7"/>
<g transform="translate(0,1.4)">
<polygon points="18.2,14.4 19.2,13.3 49,7.1 49,15.0 20.2,17.7 18.5,16.9" fill="#4c4c4c"/>
<polygon points="18.6,14.2 19.4,13.3 49,7.1 49,12 20,15.6" fill="#2e2e2e"/>
<polygon points="30,14.9 49,12.6 49,15.0 30,16.7" fill="#404040"/>
<ellipse cx="20.6" cy="15.9" rx="1.5" ry="0.8" fill="#c0c0c0"/>
</g>
<circle cx="36.7" cy="19" r="1.35" fill="#e8e8e8" opacity="0.5"/>
</g>
<rect x="43.4" y="33.3" width="4.2" height="1.1" fill="#f2f2f2"/>
</g>
<g transform="translate(471,218.50)" clip-path="url(#cpR)">
<rect x="-1" y="-1" width="51" height="38" fill="#888888"/>
<g filter="url(#bl)">
<circle cx="12.1" cy="8.4" r="2.6" fill="#949494" stroke="#646464" stroke-width="0.8"/>
<circle cx="19" cy="10.3" r="2.6" fill="#949494" stroke="#646464" stroke-width="0.8"/>
<circle cx="12.7" cy="15.8" r="2.6" fill="#949494" stroke="#646464" stroke-width="0.8"/>
<circle cx="19.8" cy="17.2" r="2.6" fill="#949494" stroke="#646464" stroke-width="0.8"/>
<circle cx="10.8" cy="24" r="2.6" fill="#949494" stroke="#646464" stroke-width="0.8"/>
<circle cx="16.2" cy="26.7" r="2.6" fill="#949494" stroke="#646464" stroke-width="0.8"/>
<circle cx="12.1" cy="31.4" r="2.6" fill="#949494" stroke="#646464" stroke-width="0.8"/>
<g transform="translate(0,0.6)">
<polygon points="26.8,20.4 28.4,19.6 50,16.8 50,22.4 28.6,24.2 26.9,23.5" fill="#808080"/>
<polygon points="38,18.4 50,16.8 50,22.4 38,23.4" fill="#6c6c6c"/>
<polyline points="50,17 28.4,19.7 27.1,20.5 27.2,23.4 28.6,24 50,22.2" fill="none" stroke="#505050" stroke-width="0.8"/>
<rect x="29.2" y="20.6" width="4.2" height="0.9" fill="#e0e0e0"/><rect x="29.2" y="22.6" width="3.6" height="0.8" fill="#d6d6d6"/>
</g>
</g>
<rect x="44.2" y="33.5" width="3.8" height="1.0" fill="#f2f2f2"/>
</g>
<text x="368.0" y="238.85" class="tb" text-anchor="end" >20</text>
<text x="462.4" y="238.85" class="tb" text-anchor="end" >8</text>
<g transform="translate(374,256.62)" clip-path="url(#cpL)">
<linearGradient id="lg6" x1="0" x2="1" y1="0" y2="0"><stop offset="0" stop-color="#878787"/><stop offset="0.45" stop-color="#8b8b8b"/><stop offset="1" stop-color="#949494"/></linearGradient>
<rect x="-1" y="-1" width="50" height="38" fill="url(#lg6)"/>
<g filter="url(#bl)">
<ellipse cx="34" cy="5" rx="22" ry="12" fill="#979797" opacity="0.5" filter="url(#bl2)"/>
<circle cx="5.3" cy="8.9" r="2.9" fill="#8f8f8f" stroke="#6d6d6d" stroke-width="0.7"/>
<g transform="translate(0,1.8)">
<polygon points="18.2,14.4 19.2,13.3 49,7.1 49,15.0 20.2,17.7 18.5,16.9" fill="#4c4c4c"/>
<polygon points="18.6,14.2 19.4,13.3 49,7.1 49,12 20,15.6" fill="#2e2e2e"/>
<polygon points="30,14.9 49,12.6 49,15.0 30,16.7" fill="#404040"/>
<ellipse cx="20.6" cy="15.9" rx="1.5" ry="0.8" fill="#c0c0c0"/>
</g>
<circle cx="36.7" cy="19.3" r="1.35" fill="#e8e8e8" opacity="0.5"/>
</g>
<rect x="43.4" y="33.3" width="4.2" height="1.1" fill="#f2f2f2"/>
</g>
<g transform="translate(471,256.10)" clip-path="url(#cpR)">
<rect x="-1" y="-1" width="51" height="38" fill="#989898"/>
<g filter="url(#bl)">
<circle cx="12.7" cy="7.8" r="2.6" fill="#a4a4a4" stroke="#747474" stroke-width="0.8"/>
<circle cx="20.3" cy="13.3" r="2.6" fill="#a4a4a4" stroke="#747474" stroke-width="0.8"/>
<circle cx="10.8" cy="16" r="2.6" fill="#a4a4a4" stroke="#747474" stroke-width="0.8"/>
<circle cx="16.2" cy="18" r="2.6" fill="#a4a4a4" stroke="#747474" stroke-width="0.8"/>
<circle cx="10" cy="24.3" r="2.6" fill="#a4a4a4" stroke="#747474" stroke-width="0.8"/>
<circle cx="14.9" cy="25.6" r="2.6" fill="#a4a4a4" stroke="#747474" stroke-width="0.8"/>
<circle cx="11.6" cy="30.5" r="2.6" fill="#a4a4a4" stroke="#747474" stroke-width="0.8"/>
<circle cx="25.8" cy="32.4" r="2.6" fill="#a4a4a4" stroke="#747474" stroke-width="0.8"/>
<g transform="translate(0,1.3)">
<polygon points="26.8,20.4 28.4,19.6 50,16.8 50,22.4 28.6,24.2 26.9,23.5" fill="#808080"/>
<polygon points="38,18.4 50,16.8 50,22.4 38,23.4" fill="#6c6c6c"/>
<polyline points="50,17 28.4,19.7 27.1,20.5 27.2,23.4 28.6,24 50,22.2" fill="none" stroke="#505050" stroke-width="0.8"/>
<rect x="29.2" y="20.6" width="4.2" height="0.9" fill="#e0e0e0"/><rect x="29.2" y="22.6" width="3.6" height="0.8" fill="#d6d6d6"/>
</g>
</g>
<rect x="44.2" y="33.5" width="3.8" height="1.0" fill="#f2f2f2"/>
</g>
<text x="368.0" y="277.45" class="tb" text-anchor="end" >25</text>
<text x="462.4" y="277.45" class="tb" text-anchor="end" >10</text>
</svg></body></html>
